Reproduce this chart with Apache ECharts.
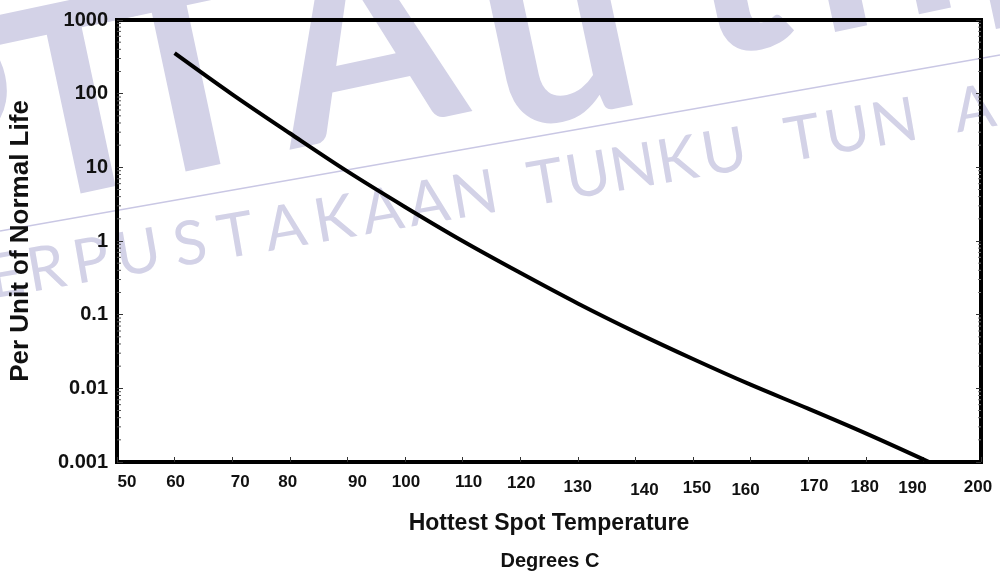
<!DOCTYPE html>
<html>
<head>
<meta charset="utf-8">
<script src="https://cdn.jsdelivr.net/npm/echarts@6/dist/echarts.min.js"></script>
<style>
html,body{margin:0;padding:0;background:#fff;}
#chart{width:1000px;height:571px;}
</style>
</head>
<body>
<div id="chart"></div>
<script>
// ---- data ----
const temperatures = [60, 70, 80, 90, 100, 110, 120, 130, 140, 150, 160, 170, 180, 191];
const perUnitLife = [355, 98, 29, 8.8, 2.9, 1.0, 0.37, 0.142, 0.058, 0.025, 0.0112, 0.0053, 0.00245, 0.001];
const xTickLabels = [50, 60, 70, 80, 90, 100, 110, 120, 130, 140, 150, 160, 170, 180, 190, 200];
const yTickLabels = ['0.001', '0.01', '0.1', '1', '10', '100', '1000'];
const yMinorTicks = [];
[0.001, 0.01, 0.1, 1, 10, 100].forEach(d => { for (let k = 2; k <= 9; k++) yMinorTicks.push(+(d * k).toPrecision(3)); });

// label placement jitter of the original typeset labels (style only: [dx, dy] in px)
const xLabelShift = [[10, 0], [1, 0], [8, 0], [-2, 0], [10, 0], [1, 0], [6, 0], [1, 1], [0, 5], [9, 8], [4, 6], [-5, 8], [6, 4], [-1, 5], [-11, 6], [-3, 5]];
const rich = {};
xTickLabels.forEach((v, i) => {
  const [dx, dy] = xLabelShift[i];
  rich['l' + v] = {
    fontSize: 17, fontWeight: 'bold', color: '#111', fontFamily: 'Liberation Sans, Arial, sans-serif',
    padding: [dy, dx < 0 ? -2 * dx : 0, 0, dx > 0 ? 2 * dx : 0]
  };
});

// ---- watermark (background) ----
const wmColor = '#d3d2e7';
const bigLetters = [['P', -40, 'cap'], ['T', 100, 'cap'], ['T', 205, 'cap'], ['A', 383, 'cap'], ['u', 572, 'x'], ['t', 752, 'asc'], ['h', 895, 'asc'], ['m', 1085, 'x']];
const smallLetters = [['P', -30], ['E', 10], ['R', 50], ['P', 95], ['U', 142], ['S', 194], ['T', 240], ['A', 289], ['K', 338], ['A', 386], ['A', 432], ['N', 478],
  ['T', 550], ['U', 592], ['N', 637], ['K', 681], ['U', 728], ['T', 807], ['U', 851], ['N', 898], ['A', 978], ['M', 1032]];
const graphics = [];
function place(ch, cx, by, d, size, weight, ang) {
  return {
    type: 'text', z: -10, silent: true,
    x: cx - d * Math.sin(ang), y: by - d * Math.cos(ang), rotation: ang,
    style: { text: ch, fill: wmColor, fontSize: size, fontFamily: 'Lato', fontWeight: weight, align: 'center', verticalAlign: 'middle' }
  };
}
bigLetters.forEach(([ch, cx, kind]) => {
  const by = 100 - 0.21 * (cx - 572);
  const d = kind === 'cap' ? 95 : kind === 'asc' ? 98 : 68;
  graphics.push(place(ch, cx, by, d, 265, 'bold', 0.21));
});
smallLetters.forEach(([ch, cx]) => {
  const by = 205 - 0.172 * (cx - 550);
  graphics.push(place(ch, cx, by, 22, 61, 'normal', 0.172));
});
graphics.push({ type: 'line', z: -10, silent: true, shape: { x1: 0, y1: 231, x2: 1000, y2: 55 }, style: { stroke: '#c9c7e4', lineWidth: 1.5 } });
graphics.push({ type: 'text', x: 550, y: 561, style: { text: 'Degrees C', fill: '#111', fontSize: 20, fontWeight: 'bold', fontFamily: 'Liberation Sans, Arial, sans-serif', align: 'center', verticalAlign: 'middle' } });

const chart = echarts.init(document.getElementById('chart'), null, { renderer: 'canvas' });
const font = 'Liberation Sans, Arial, sans-serif';
chart.setOption({
  backgroundColor: '#fff',
  animation: false,
  graphic: graphics,
  grid: { left: 117, right: 19, top: 20, bottom: 109, show: true, borderColor: '#000', borderWidth: 4, backgroundColor: 'transparent' },
  xAxis: {
    type: 'value', min: 50, max: 200, interval: 10,
    name: 'Hottest Spot Temperature', nameLocation: 'middle', nameGap: 50,
    nameTextStyle: { fontSize: 23, fontWeight: 'bold', color: '#111', fontFamily: font },
    axisLine: { show: false },
    axisTick: { show: true, inside: true, length: 5, lineStyle: { color: '#333', width: 1 } },
    axisLabel: { margin: 12, fontSize: 17, fontWeight: 'bold', color: '#111', fontFamily: font, showMinLabel: true, showMaxLabel: true,
      formatter: v => '{l' + v + '|' + v + '}', rich: rich },
    splitLine: { show: false }
  },
  yAxis: [{
    type: 'log', min: 0.001, max: 1000, logBase: 10,
    name: 'Per Unit of Normal Life', nameLocation: 'middle', nameGap: 83,
    nameTextStyle: { fontSize: 26, fontWeight: 'bold', color: '#111', fontFamily: font },
    axisLine: { show: false },
    axisTick: { show: true, inside: true, length: 6, lineStyle: { color: '#333' } },
    axisLabel: { margin: 9, fontSize: 20, fontWeight: 'bold', color: '#111', fontFamily: font,
      formatter: v => { const s = yTickLabels.find(t => Math.abs(Math.log10(+t) - Math.log10(v)) < 1e-6); return s || ''; } },
    splitLine: { show: false }
  }, {
    type: 'log', min: 0.001, max: 1000, position: 'right',
    axisLine: { show: false }, axisLabel: { show: false }, splitLine: { show: false },
    axisTick: { show: true, inside: true, length: 5, lineStyle: { color: '#333' } }
  }],
  series: [{
    type: 'line', z: 5,
    data: temperatures.map((t, i) => [t, perUnitLife[i]]),
    smooth: 0.35, showSymbol: false, symbol: 'none',
    lineStyle: { color: '#000', width: 4 }
  }, {
    type: 'custom', z: 4, silent: true,
    data: yMinorTicks.map(v => [v]),
    renderItem: (params, api) => {
      const v = api.value(0);
      const l = api.coord([50, v]);
      const r = api.coord([200, v]);
      return { type: 'group', children: [
        { type: 'line', shape: { x1: l[0], y1: l[1], x2: l[0] + 4, y2: l[1] }, style: { stroke: '#555', lineWidth: 1 } },
        { type: 'line', shape: { x1: r[0] - 3, y1: r[1], x2: r[0], y2: r[1] }, style: { stroke: '#777', lineWidth: 1 } }
      ] };
    }
  }]
});
</script>
</body>
</html>
